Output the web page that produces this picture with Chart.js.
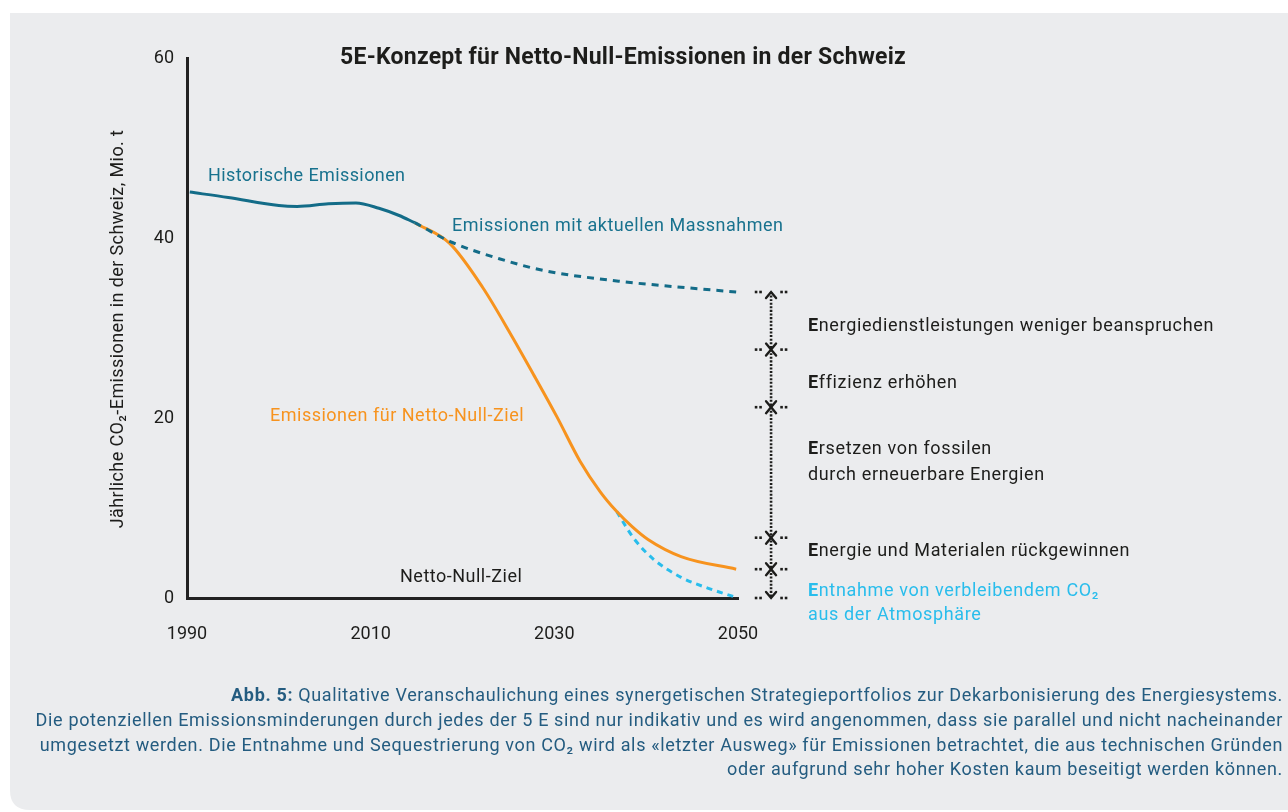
<!DOCTYPE html>
<html>
<head>
<meta charset="utf-8">
<script src="https://cdn.jsdelivr.net/npm/chart.js@4"></script>
<style>
  html, body { margin: 0; padding: 0; background: #ffffff; }
  #wrap { width: 1288px; height: 812px; position: relative; }
</style>
</head>
<body>
<div id="wrap"><canvas id="c" width="1288" height="812"></canvas></div>
<script>
// ---- data ----
const xTickLabels = [1990, 2010, 2030, 2050];
const yTickLabels = [0, 20, 40, 60];

const historicYears  = [1990.3, 1994.5, 2000.0, 2002.0, 2005.4, 2008.4, 2010.9, 2013.1, 2014.8];
const historicValues = [45.1,   44.5,   43.6,   43.5,   43.8,   43.9,   43.3,   42.5,   41.7];

const measuresYears  = [2014.8, 2018.9, 2024.0, 2028.8, 2037.0, 2043.0, 2049.8];
const measuresValues = [41.7,   39.5,   37.7,   36.4,   35.2,   34.6,   34.0];

const netZeroYears   = [2014.8, 2018.6, 2022.2, 2025.2, 2027.7, 2030.3, 2032.8, 2035.0, 2036.8, 2038.5, 2040.2, 2043.8, 2049.8];
const netZeroValues  = [41.7,   39.4,   34.5,   29.4,   24.9,   20.1,   15.2,   11.8,   9.6,    7.9,    6.5,    4.6,    3.2];

const removalYears   = [2036.8, 2038.6, 2040.8, 2043.8, 2046.7, 2049.7];
const removalValues  = [9.6,    6.7,    4.3,    2.3,    1.1,    0.1];

const bracketYear    = 2053.6;
const bracketBounds  = [34.0, 27.6, 21.2, 6.7, 3.2, 0];

// ---- styles ----
const FONT = 'Roboto';
const C_TEAL = '#136c88';
const C_TEAL_TXT = '#18728e';
const C_ORANGE = '#f7931e';
const C_CYAN = '#29bdec';
const C_DARK = '#1d1d1b';
const C_CAPTION = '#245c80';
const C_PANEL = '#ebecee';

const pts = (xs, ys) => xs.map((x, i) => ({ x: x, y: ys[i] }));

const panelPlugin = {
  id: 'panel',
  beforeDraw(chart) {
    const ctx = chart.ctx;
    ctx.save();
    ctx.fillStyle = '#ffffff';
    ctx.fillRect(0, 0, chart.width, chart.height);
    ctx.fillStyle = C_PANEL;
    const x0 = 10, y0 = 13, x1 = chart.width, y1 = 810, r = 20;
    ctx.beginPath();
    ctx.moveTo(x0, y0);
    ctx.lineTo(x1, y0);
    ctx.lineTo(x1, y1);
    ctx.lineTo(x0 + r, y1);
    ctx.quadraticCurveTo(x0, y1, x0, y1 - r);
    ctx.closePath();
    ctx.fill();
    ctx.restore();
  }
};

function drawRich(ctx, parts, x, y, align, size, spacing) {
  const sp = (spacing || 0) + 'px';
  let total = 0;
  parts.forEach(p => {
    ctx.font = (p.bold ? 'bold ' : '') + size + 'px ' + FONT;
    try { ctx.letterSpacing = sp; } catch (e) {}
    p.w = ctx.measureText(p.t).width;
    total += p.w;
  });
  let cx = align === 'right' ? x - total : (align === 'center' ? x - total / 2 : x);
  ctx.textAlign = 'left';
  ctx.textBaseline = 'middle';
  parts.forEach(p => {
    ctx.font = (p.bold ? 'bold ' : '') + size + 'px ' + FONT;
    try { ctx.letterSpacing = sp; } catch (e) {}
    ctx.fillStyle = p.color;
    ctx.fillText(p.t, cx, y);
    cx += p.w;
  });
  try { ctx.letterSpacing = '0px'; } catch (e) {}
}

const bracketPlugin = {
  id: 'bracket',
  afterDatasetsDraw(chart) {
    const ctx = chart.ctx;
    const xs = chart.scales.x, ys = chart.scales.y;
    const px = xs.getPixelForValue(bracketYear);
    ctx.save();
    ctx.strokeStyle = C_DARK;
    ctx.fillStyle = C_DARK;
    ctx.lineWidth = 2.4;
    ctx.lineCap = 'round';
    bracketBounds.forEach((v, i) => {
      const py = ys.getPixelForValue(v);
      [-15, -10.5, 10.5, 15].forEach(dx => {
        ctx.fillRect(px + dx - 1.3, py - 1.3, 2.6, 2.6);
      });
      ctx.beginPath();
      const w = 5, h = 6;
      if (i === 0) {
        ctx.moveTo(px - w, py + h);
        ctx.lineTo(px, py);
        ctx.lineTo(px + w, py + h);
      } else if (i === bracketBounds.length - 1) {
        ctx.moveTo(px - w, py - h);
        ctx.lineTo(px, py);
        ctx.lineTo(px + w, py - h);
      } else {
        ctx.moveTo(px - w, py - h);
        ctx.lineTo(px, py);
        ctx.lineTo(px + w, py - h);
        ctx.moveTo(px - w, py + h);
        ctx.lineTo(px, py);
        ctx.lineTo(px + w, py + h);
      }
      ctx.stroke();
    });
    ctx.restore();
  }
};

const textPlugin = {
  id: 'texts',
  afterDraw(chart) {
    const ctx = chart.ctx;
    ctx.save();
    const S = 18, LS = 0.65;
    // title
    drawRich(ctx, [{ t: '5E-Konzept für Netto-Null-Emissionen in der Schweiz', bold: true, color: C_DARK }], 623, 58, 'center', 23, 0.25);
    // curve labels
    drawRich(ctx, [{ t: 'Historische Emissionen', color: C_TEAL_TXT }], 208, 176, 'left', S, 0.4);
    drawRich(ctx, [{ t: 'Emissionen mit aktuellen Massnahmen', color: C_TEAL_TXT }], 452, 226, 'left', S, 0.5);
    drawRich(ctx, [{ t: 'Emissionen für Netto-Null-Ziel', color: C_ORANGE }], 270, 416, 'left', S, 0.5);
    drawRich(ctx, [{ t: 'Netto-Null-Ziel', color: C_DARK }], 400, 577, 'left', S, 0.5);
    // 5 E labels
    const ex = 808;
    drawRich(ctx, [{ t: 'E', bold: true, color: C_DARK }, { t: 'nergiedienstleistungen weniger beanspruchen', color: C_DARK }], ex, 326, 'left', S, LS);
    drawRich(ctx, [{ t: 'E', bold: true, color: C_DARK }, { t: 'ffizienz erhöhen', color: C_DARK }], ex, 383, 'left', S, LS);
    drawRich(ctx, [{ t: 'E', bold: true, color: C_DARK }, { t: 'rsetzen von fossilen', color: C_DARK }], ex, 449, 'left', S, LS);
    drawRich(ctx, [{ t: 'durch erneuerbare Energien', color: C_DARK }], ex, 475, 'left', S, LS);
    drawRich(ctx, [{ t: 'E', bold: true, color: C_DARK }, { t: 'nergie und Materialen rückgewinnen', color: C_DARK }], ex, 551, 'left', S, LS);
    drawRich(ctx, [{ t: 'E', bold: true, color: C_CYAN }, { t: 'ntnahme von verbleibendem CO₂', color: C_CYAN }], ex, 591, 'left', S, LS);
    drawRich(ctx, [{ t: 'aus der Atmosphäre', color: C_CYAN }], ex, 615, 'left', S, LS);
    // y axis title
    ctx.save();
    ctx.translate(118, 329);
    ctx.rotate(-Math.PI / 2);
    drawRich(ctx, [{ t: 'Jährliche CO₂-Emissionen in der Schweiz, Mio. t', color: C_DARK }], 0, 0, 'center', S, 0.4);
    ctx.restore();
    // caption
    const cx = 1283;
    drawRich(ctx, [{ t: 'Abb. 5:', bold: true, color: C_CAPTION }, { t: ' Qualitative Veranschaulichung eines synergetischen Strategieportfolios zur Dekarbonisierung des Energiesystems.', color: C_CAPTION }], cx, 696, 'right', S, LS);
    drawRich(ctx, [{ t: 'Die potenziellen Emissionsminderungen durch jedes der 5 E sind nur indikativ und es wird angenommen, dass sie parallel und nicht nacheinander', color: C_CAPTION }], cx, 721, 'right', S, LS);
    drawRich(ctx, [{ t: 'umgesetzt werden. Die Entnahme und Sequestrierung von CO₂ wird als «letzter Ausweg» für Emissionen betrachtet, die aus technischen Gründen', color: C_CAPTION }], cx, 746, 'right', S, LS);
    drawRich(ctx, [{ t: 'oder aufgrund sehr hoher Kosten kaum beseitigt werden können.', color: C_CAPTION }], cx, 770, 'right', S, LS);
    ctx.restore();
  }
};

const lineDefaults = { pointRadius: 0, pointHoverRadius: 0, fill: false, cubicInterpolationMode: 'monotone' };

new Chart(document.getElementById('c'), {
  type: 'line',
  data: {
    datasets: [
      Object.assign({ label: 'Historische Emissionen', data: pts(historicYears, historicValues), borderColor: C_TEAL, borderWidth: 3 }, lineDefaults),
      Object.assign({ label: 'Emissionen mit aktuellen Massnahmen', data: pts(measuresYears, measuresValues), borderColor: C_TEAL, borderWidth: 3, borderDash: [7, 6] }, lineDefaults),
      Object.assign({ label: 'Emissionen für Netto-Null-Ziel', data: pts(netZeroYears, netZeroValues), borderColor: C_ORANGE, borderWidth: 3 }, lineDefaults),
      Object.assign({ label: 'Entnahme', data: pts(removalYears, removalValues), borderColor: C_CYAN, borderWidth: 3, borderDash: [6, 5] }, lineDefaults),
      Object.assign({ label: 'bracket', data: [{ x: bracketYear, y: bracketBounds[0] }, { x: bracketYear, y: bracketBounds[bracketBounds.length - 1] }], borderColor: C_DARK, borderWidth: 2.6, borderDash: [2, 1.6], clip: false }, lineDefaults)
    ]
  },
  options: {
    responsive: false,
    animation: false,
    events: [],
    layout: { padding: { top: 58, right: 550, bottom: 0, left: 0 } },
    plugins: { legend: { display: false }, title: { display: false }, tooltip: { enabled: false } },
    scales: {
      x: {
        type: 'linear',
        min: 1990, max: 2050,
        afterFit: s => { s.height = 214; },
        afterBuildTicks: s => { s.ticks = xTickLabels.map(v => ({ value: v })); },
        grid: { display: false, drawTicks: false },
        border: { display: true, color: '#222222', width: 3 },
        ticks: { color: C_DARK, padding: 26, font: { family: FONT, size: 18 }, callback: v => String(v), maxRotation: 0, autoSkip: false }
      },
      y: {
        type: 'linear',
        min: 0, max: 60,
        afterFit: s => { s.width = 187; },
        afterBuildTicks: s => { s.ticks = yTickLabels.map(v => ({ value: v })); },
        grid: { display: false, drawTicks: false },
        border: { display: true, color: '#222222', width: 3 },
        ticks: { color: C_DARK, padding: 13, font: { family: FONT, size: 18 }, callback: v => String(v) }
      }
    }
  },
  plugins: [panelPlugin, bracketPlugin, textPlugin]
});
</script>
</body>
</html>
